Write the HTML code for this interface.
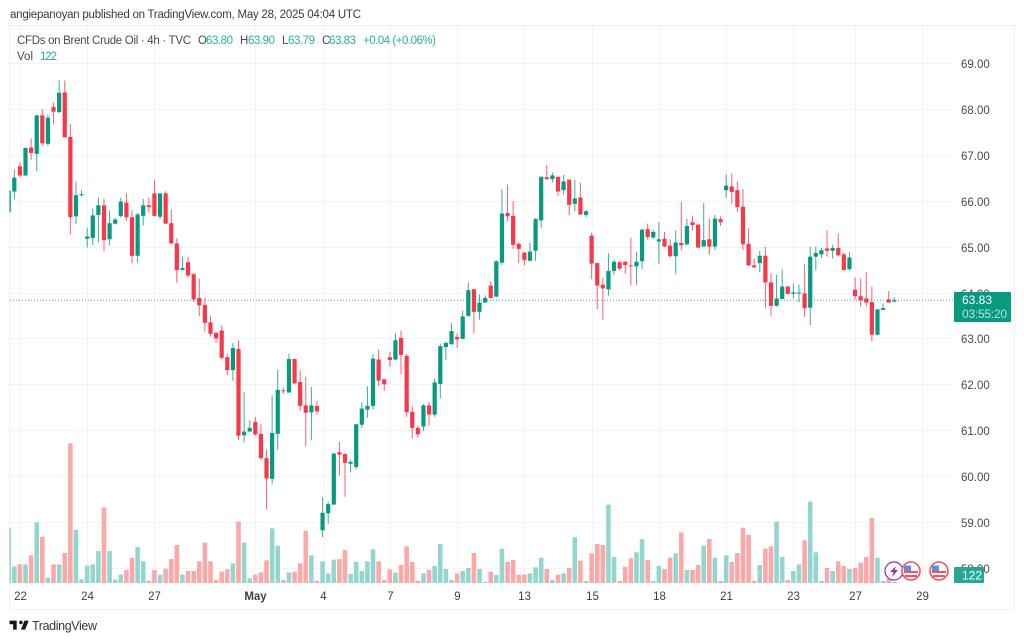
<!DOCTYPE html>
<html lang="en">
<head>
<meta charset="utf-8">
<title>Brent Crude Oil chart</title>
<style>
html,body{margin:0;padding:0;background:#fff;width:1024px;height:642px;overflow:hidden}
svg{display:block;font-family:"Liberation Sans",sans-serif;filter:blur(0.3px)}
</style>
</head>
<body>
<svg id="chart" width="1024" height="642" viewBox="0 0 1024 642" xmlns="http://www.w3.org/2000/svg">
  <defs><clipPath id="plot-clip"><rect x="9.5" y="25" width="944" height="584"/></clipPath></defs>
  <rect x="0" y="0" width="1024" height="642" fill="#ffffff"/>
  <text x="10" y="18" font-size="11.5" fill="#3a3a3a" textLength="351" lengthAdjust="spacing">angiepanoyan published on TradingView.com, May 28, 2025 04:04 UTC</text>
  <rect x="9.5" y="25.5" width="1005" height="584" fill="none" stroke="#efefef"/>
  <g id="grid"></g>
  <g id="volumes" clip-path="url(#plot-clip)"></g>
  <g id="candles" clip-path="url(#plot-clip)"></g>
  <line id="last-line" x1="10" x2="954" stroke="#089981" stroke-width="1" stroke-dasharray="1 2" opacity="0.8"/>
  <g id="price-axis"></g>
  <g id="time-axis"></g>

  <g font-size="11.5">
    <text x="17" y="44" fill="#4a4a4a" textLength="174" lengthAdjust="spacing">CFDs on Brent Crude Oil · 4h · TVC</text>
    <text x="198" y="44" fill="#4a4a4a">O</text>
    <text x="206" y="44" fill="#2bb09a" textLength="27" lengthAdjust="spacing">63.80</text>
    <text x="240" y="44" fill="#4a4a4a">H</text>
    <text x="248" y="44" fill="#2bb09a" textLength="27" lengthAdjust="spacing">63.90</text>
    <text x="282" y="44" fill="#4a4a4a">L</text>
    <text x="288" y="44" fill="#2bb09a" textLength="27" lengthAdjust="spacing">63.79</text>
    <text x="322" y="44" fill="#4a4a4a">C</text>
    <text x="329" y="44" fill="#2bb09a" textLength="27" lengthAdjust="spacing">63.83</text>
    <text x="363" y="44" fill="#2bb09a" textLength="73" lengthAdjust="spacing">+0.04 (+0.06%)</text>
    <text x="17" y="60" fill="#4a4a4a" textLength="16" lengthAdjust="spacing">Vol</text>
    <text x="40" y="60" fill="#2bb09a" textLength="17" lengthAdjust="spacing">122</text>
  </g>

  <g>
    <rect x="954" y="292" width="57" height="30" rx="1" fill="#089981"/>
    <text x="962" y="304" font-size="12" fill="#ffffff">63.83</text>
    <text x="962" y="318" font-size="12" fill="#b5e3da" textLength="45" lengthAdjust="spacing">03:55:20</text>
  </g>
  <g>
    <rect x="954" y="567" width="30" height="16" rx="1" fill="#26a694"/>
    <text x="962" y="579.5" font-size="12" fill="#ffffff">122</text>
  </g>

  <g>
    <circle cx="894" cy="571" r="9" fill="#ffffff" stroke="#9c27b0" stroke-width="1.2"/>
    <polygon points="896,566 890,572 893.5,572 892,577 898,570 894.5,570" fill="#9c27b0"/>
  </g>
  <g>
    <circle cx="911" cy="571" r="9" fill="#ffffff" stroke="#f7525f" stroke-width="1.6"/>
    <rect x="904" y="571" width="14" height="2" fill="#f7525f"/>
    <rect x="905" y="575" width="12" height="2" fill="#f7525f"/>
    <rect x="904" y="565.5" width="7" height="5.5" fill="#5b8fe0"/>
  </g>
  <g>
    <circle cx="939" cy="571" r="9" fill="#ffffff" stroke="#f7525f" stroke-width="1.6"/>
    <rect x="932" y="571" width="14" height="2" fill="#f7525f"/>
    <rect x="933" y="575" width="12" height="2" fill="#f7525f"/>
    <rect x="932" y="565.5" width="7" height="5.5" fill="#5b8fe0"/>
  </g>

  <g>
    <path transform="translate(8.3,617) scale(0.6)" d="M14 6H2v6h6v9h6V6zm14 15h-7l6-15h7l-6 15zm-7-9a3 3 0 1 0 0-6 3 3 0 0 0 0 6z" fill="#131722"/>
    <text x="32" y="630" font-size="12.5" fill="#333844" textLength="65" lengthAdjust="spacing">TradingView</text>
  </g>
</svg>
<script>
var opens = [65.75,66.20,66.75,66.55,67.16,67.02,67.86,67.24,68.04,67.93,68.36,67.39,65.66,66.12,65.17,65.19,65.69,65.90,65.16,65.50,65.67,65.96,65.64,64.80,65.67,65.90,66.16,65.65,66.16,65.51,
65.07,64.49,64.66,64.40,63.88,63.73,63.35,63.12,63.17,62.59,
62.31,62.77,60.89,60.97,61.18,60.92,60.39,59.94,60.92,61.87,
61.82,62.55,62.05,61.54,61.39,61.53,58.82,59.19,59.38,60.52,
60.48,60.27,60.20,61.12,61.45,61.53,62.54,62.11,62.59,62.54,
63.01,62.62,61.40,61.05,61.08,61.54,61.34,62.01,62.81,62.87,
63.03,62.99,63.49,64.07,63.58,63.78,64.15,63.91,64.65,65.73,
65.67,65.06,64.87,64.69,64.91,65.57,66.51,66.47,66.52,66.23,
66.46,65.93,66.07,65.69,65.24,64.64,64.17,64.07,64.47,64.66,
64.67,64.59,64.57,64.68,65.38,65.20,65.11,65.17,65.02,64.79,
65.08,65.05,65.53,65.48,65.00,65.16,65.00,65.60,66.23,66.31,
66.23,65.87,65.06,64.59,64.64,64.80,64.22,63.71,63.86,64.13,
63.97,63.98,63.98,63.67,64.78,64.83,64.96,64.91,64.97,64.83,
64.51,64.06,63.92,63.87,63.79,63.08,63.62,63.85,63.80];
var highs = [66.22,66.68,66.83,67.15,67.36,67.86,68.00,67.88,68.14,68.62,68.62,67.67,66.42,66.23,65.41,65.83,66.07,66.04,65.79,65.63,66.07,66.16,65.79,65.73,66.04,66.07,66.45,66.16,66.21,65.81,
65.18,64.78,64.78,64.42,64.30,63.88,63.50,63.13,63.29,62.67,
62.90,62.96,61.83,61.22,61.29,61.13,60.58,61.76,62.32,61.93,
62.67,62.56,62.31,62.16,61.94,61.63,59.54,59.44,60.51,60.75,
60.50,60.36,61.13,61.61,61.96,62.66,62.76,62.11,62.71,63.11,
63.17,62.66,61.53,61.10,61.57,61.62,62.13,62.89,62.93,63.33,
63.11,63.60,64.22,64.08,63.96,63.94,64.25,64.70,66.25,66.35,
65.99,65.09,64.89,65.08,65.62,66.53,66.78,66.62,66.53,66.56,
66.46,66.46,66.39,65.80,65.30,64.65,64.31,64.86,64.71,64.68,
64.68,65.19,64.89,65.39,65.50,65.37,65.53,65.32,65.16,65.35,
65.97,65.60,65.67,65.48,65.95,65.61,65.69,65.66,66.57,66.59,
66.42,66.25,65.40,64.74,64.91,64.99,64.42,64.38,64.51,64.14,
64.19,64.17,64.62,65.00,65.00,64.97,65.35,65.04,65.28,64.87,
64.88,64.33,64.31,64.44,64.13,63.64,63.76,64.03,63.90];
var lows = [65.75,66.03,66.51,66.53,66.89,66.64,67.19,67.19,67.66,67.91,67.38,65.27,65.49,66.09,64.98,65.03,65.09,64.90,65.03,65.48,65.63,65.56,64.64,64.65,65.46,65.74,65.66,65.59,65.49,65.05,
64.21,64.49,64.32,63.79,63.48,63.15,63.04,62.90,62.54,62.20,
62.08,60.78,60.73,60.97,60.88,60.35,59.28,59.82,60.57,61.79,
61.82,62.00,61.42,60.65,60.78,61.34,58.67,58.96,59.37,60.01,
59.55,60.08,60.15,61.05,61.27,61.45,61.96,61.86,62.38,62.53,
62.22,61.29,60.82,60.84,60.98,61.10,61.29,61.69,62.53,62.87,
62.80,62.98,63.47,63.12,63.41,63.78,63.87,63.90,64.60,65.55,
64.95,64.64,64.59,64.68,64.69,65.40,66.46,66.40,66.11,66.13,
65.68,65.77,65.69,65.64,64.29,63.64,63.41,63.93,64.39,64.48,
64.41,64.15,64.17,64.51,65.15,65.16,64.63,64.99,64.76,64.40,
64.92,65.02,65.35,64.97,65.00,64.82,64.93,65.45,66.06,65.93,
65.75,64.93,64.58,64.53,64.44,63.65,63.49,63.69,63.86,63.96,
63.87,63.79,63.47,63.29,64.48,64.75,64.78,64.74,64.78,64.49,
64.48,63.84,63.69,63.69,62.93,63.07,63.62,63.78,63.79];
var closes = [66.22,66.50,66.55,67.15,67.04,67.86,67.25,67.81,67.94,68.35,67.38,65.64,66.12,66.14,65.22,65.68,65.90,65.14,65.51,65.59,65.98,65.64,64.80,65.70,65.90,65.86,65.67,66.16,65.50,65.07,
64.49,64.53,64.37,63.85,63.72,63.34,63.10,63.00,62.58,62.31,
62.79,60.88,60.97,61.05,60.91,60.39,59.95,60.94,61.88,61.85,
62.55,62.02,61.53,61.38,61.54,61.41,59.20,59.39,60.49,60.47,
60.29,60.31,61.13,61.47,61.53,62.56,62.08,62.00,62.53,62.96,
62.64,61.39,61.05,60.91,61.54,61.34,62.04,62.83,62.90,63.16,
62.98,63.48,64.05,63.58,63.78,63.88,63.88,64.68,65.72,65.66,
65.04,64.95,64.71,64.89,65.60,66.52,66.47,66.55,66.20,66.42,
65.91,66.05,65.70,65.77,64.63,64.15,64.09,64.47,64.67,64.52,
64.60,64.57,64.67,65.37,65.21,65.32,65.16,65.00,64.79,65.09,
65.03,65.45,65.47,64.98,65.14,65.00,65.61,65.53,66.33,66.19,
65.86,65.05,64.59,64.55,64.80,64.22,63.71,63.87,64.13,63.97,
64.00,64.00,63.66,64.78,64.86,64.92,64.91,64.97,64.81,64.49,
64.76,63.92,63.83,63.78,63.08,63.63,63.66,63.78,63.83];
var volumes = [164,50,56,56,83,182,139,16,56,56,90,419,159,11,52,56,96,227,96,10,25,39,76,108,65,7,39,25,43,72,
114,25,36,36,65,121,65,9,34,41,59,184,121,14,25,32,68,164,112,9,32,34,59,157,83,7,65,29,70,72,
99,27,63,36,65,101,65,9,41,31,54,110,63,7,29,40,51,117,42,9,29,36,45,90,42,4,34,24,103,63,
69,25,25,29,47,76,42,9,25,29,45,137,67,6,89,117,114,235,78,6,49,74,92,132,69,6,51,42,76,89,
152,39,39,54,112,132,76,6,83,63,90,166,144,6,54,103,110,184,78,9,36,56,128,244,92,6,45,36,65,51,
42,45,60,78,195,76,6,14,4];
var priceTicks = ["69.00","68.00","67.00","66.00","65.00","64.00","63.00","62.00","61.00","60.00","59.00","58.00"];
var dateLabels = ["22","24","27","May","4","7","9","13","15","18","21","23","27","29"];
var dateBarIndex = [2,14,26,44,56,68,80,92,104,116,128,140,151,163];
var lastPrice = 63.83;

var NS = "http://www.w3.org/2000/svg";
var UP = "#089981", DOWN = "#f7374a";
function priceY(p){ return 63 + (69 - p) * 45.9; }
function barX(i){ return 8.7 + i * 5.605; }
function volY(v){ return 583 - v / 3; }
function make(tag, parent){ var e = document.createElementNS(NS, tag); parent.appendChild(e); return e; }

var gridG = document.getElementById("grid");
var volG = document.getElementById("volumes");
var candleG = document.getElementById("candles");
var priceG = document.getElementById("price-axis");
var timeG = document.getElementById("time-axis");

priceTicks.forEach(function(t){
  var y = Math.round(priceY(parseFloat(t))) + 0.5;
  var gl = make("line", gridG);
  
  
  gl.setAttribute("x1", 10); gl.setAttribute("x2", 954);
  gl.setAttribute("y1", y); gl.setAttribute("y2", y);
  gl.setAttribute("stroke", "#f3f3f3");
  var lb = make("text", priceG);
  
  
  lb.setAttribute("x", 961); lb.setAttribute("y", y + 4.5);
  lb.setAttribute("font-size", "11.5"); lb.setAttribute("fill", "#4a4a4a");
  lb.textContent = t;
});

dateLabels.forEach(function(d, k){
  var x = Math.round(barX(dateBarIndex[k])) + 0.5;
  var gl = make("line", gridG);
  
  
  gl.setAttribute("x1", x); gl.setAttribute("x2", x);
  gl.setAttribute("y1", 26); gl.setAttribute("y2", 583);
  gl.setAttribute("stroke", "#f3f3f3");
  var lb = make("text", timeG);
  
  
  lb.setAttribute("x", x); lb.setAttribute("y", 600);
  lb.setAttribute("text-anchor", "middle");
  lb.setAttribute("font-size", "11.5"); lb.setAttribute("fill", "#3f3f3f");
  if (d === "May") { lb.setAttribute("font-weight", "bold"); }
  lb.textContent = d;
});

opens.forEach(function(o, i){
  var c = closes[i], up = c >= o, col = up ? UP : DOWN, x = barX(i);
  var vb = make("rect", volG);
  
  
  vb.setAttribute("x", x - 2.3); vb.setAttribute("width", 4.6);
  vb.setAttribute("y", volY(volumes[i])); vb.setAttribute("height", 583 - volY(volumes[i]));
  vb.setAttribute("fill", up ? "#94d6ce" : "#faa8a8");

  var wick = make("line", candleG);
  
  
  wick.setAttribute("x1", x); wick.setAttribute("x2", x);
  wick.setAttribute("y1", priceY(highs[i])); wick.setAttribute("y2", priceY(lows[i]));
  wick.setAttribute("stroke", col); wick.setAttribute("stroke-width", 1);
  wick.setAttribute("opacity", "0.8");

  var body = make("rect", candleG);
  
  
  var top = priceY(Math.max(o, c)), bot = priceY(Math.min(o, c));
  body.setAttribute("x", x - 2.1); body.setAttribute("width", 4.2);
  body.setAttribute("y", top); body.setAttribute("height", Math.max(bot - top, 1));
  body.setAttribute("fill", col);
});

var ll = document.getElementById("last-line");
ll.setAttribute("y1", priceY(lastPrice));
ll.setAttribute("y2", priceY(lastPrice));
</script>
</body>
</html>
